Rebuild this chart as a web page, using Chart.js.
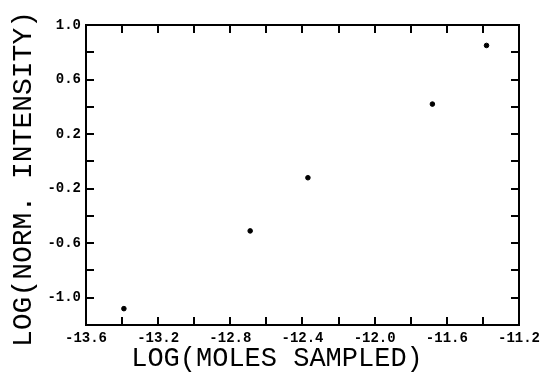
<!DOCTYPE html>
<html>
<head>
<meta charset="utf-8">
<script src="https://cdn.jsdelivr.net/npm/chart.js@4"></script>
<style>
  html, body { margin: 0; padding: 0; background: #fff; }
  #wrap { width: 545px; height: 372px; position: relative; }
</style>
</head>
<body>
<div id="wrap"><canvas id="grafico"></canvas></div>
<script>
// datos
const logMoles = [-13.39, -12.69, -12.37, -11.68, -11.38];
const logIntensity = [-1.08, -0.51, -0.12, 0.42, 0.85];
const xTickLabels = ['-13.6', '-13.2', '-12.8', '-12.4', '-12.0', '-11.6', '-11.2'];
const yTickLabels = ['-1.0', '-0.6', '-0.2', '0.2', '0.6', '1.0'];
const xTitle = 'LOG(MOLES SAMPLED)';
const yTitle = 'LOG(NORM. INTENSITY)';

const puntos = logMoles.map((x, i) => ({ x: x, y: logIntensity[i] }));

// marco, marcas hacia dentro y titulos de ejes
const marco = {
  id: 'marco',
  afterDraw(chart) {
    const { ctx, chartArea: a, scales } = chart;
    const len = 8;
    ctx.save();
    ctx.strokeStyle = '#000';
    ctx.lineWidth = 2;
    ctx.strokeRect(a.left, a.top, a.right - a.left, a.bottom - a.top);
    ctx.beginPath();
    scales.x.ticks.forEach(t => {
      const px = Math.round(scales.x.getPixelForValue(t.value));
      if (px <= a.left + 1 || px >= a.right - 1) return;
      ctx.moveTo(px, a.bottom); ctx.lineTo(px, a.bottom - len);
      ctx.moveTo(px, a.top); ctx.lineTo(px, a.top + len);
    });
    scales.y.ticks.forEach(t => {
      const py = Math.round(scales.y.getPixelForValue(t.value));
      if (py <= a.top + 1 || py >= a.bottom - 1) return;
      ctx.moveTo(a.left, py); ctx.lineTo(a.left + len, py);
      ctx.moveTo(a.right, py); ctx.lineTo(a.right - len, py);
    });
    ctx.stroke();

    ctx.fillStyle = '#000';
    ctx.textAlign = 'center';
    ctx.textBaseline = 'middle';
    ctx.font = '27px "Liberation Mono", monospace';
    ctx.fillText(xTitle, 277, 359);
    ctx.translate(24, 179);
    ctx.rotate(-Math.PI / 2);
    ctx.font = '28px "Liberation Mono", monospace';
    ctx.fillText(yTitle, 0, 0);
    ctx.restore();
  }
};

const ctx = document.getElementById('grafico');
new Chart(ctx, {
  type: 'scatter',
  data: {
    datasets: [{
      data: puntos,
      backgroundColor: '#000',
      borderColor: '#000',
      pointRadius: 2.3,
      pointHoverRadius: 2.3
    }]
  },
  plugins: [marco],
  options: {
    responsive: true,
    maintainAspectRatio: false,
    animation: false,
    layout: { padding: { top: 25, right: 23, left: 0, bottom: 0 } },
    plugins: {
      legend: { display: false },
      tooltip: { enabled: false }
    },
    scales: {
      x: {
        type: 'linear',
        min: -13.6,
        max: -11.2,
        grid: { display: false, tickLength: 0 },
        border: { display: false },
        afterFit: s => { s.height = 47; },
        ticks: {
          stepSize: 0.2,
          autoSkip: false,
          maxRotation: 0,
          padding: 5,
          color: '#000',
          font: { family: '"Liberation Mono", monospace', size: 14, weight: 'bold' },
          callback: v => {
            const s = Number(v).toFixed(1);
            return xTickLabels.includes(s) ? s : '';
          }
        }
      },
      y: {
        type: 'linear',
        min: -1.2,
        max: 1.0,
        grid: { display: false, tickLength: 0 },
        border: { display: false },
        afterFit: s => { s.width = 86; },
        ticks: {
          stepSize: 0.2,
          autoSkip: false,
          padding: 5,
          color: '#000',
          font: { family: '"Liberation Mono", monospace', size: 14, weight: 'bold' },
          callback: v => {
            const s = Number(v).toFixed(1);
            return yTickLabels.includes(s) ? s : '';
          }
        }
      }
    }
  }
});
</script>
</body>
</html>
